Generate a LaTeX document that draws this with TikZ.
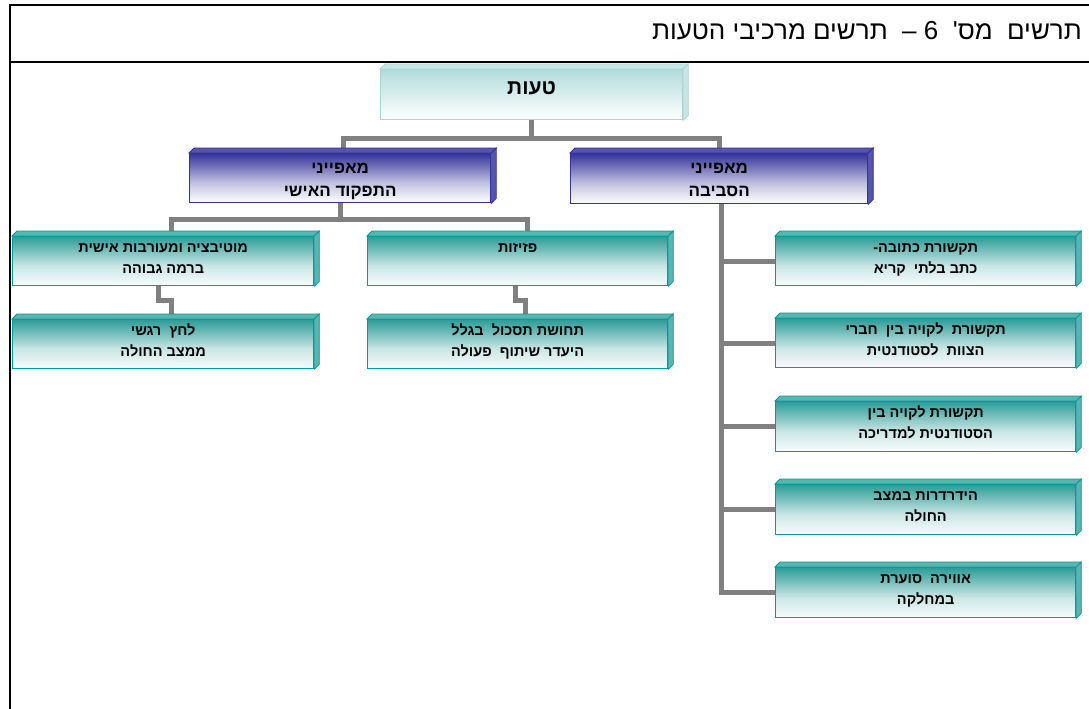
\documentclass[tikz,border=0pt]{standalone}
\usepackage{fontspec}
\setmainfont{Liberation Sans}
\newfontfamily\heb[Script=Hebrew]{Liberation Sans}
\TeXXeTstate=1
\usetikzlibrary{calc,backgrounds}
\definecolor{tealB}{HTML}{009C99}
\definecolor{tealT}{HTML}{2E9C97}
\definecolor{tealS}{HTML}{5DB3AE}
\definecolor{blueB}{HTML}{333399}
\definecolor{blueT}{HTML}{35359A}
\definecolor{blueS}{HTML}{5555AA}
\definecolor{cyanB}{HTML}{A8D6D6}
\definecolor{cyanT}{HTML}{B2DBDC}
\definecolor{cyanS}{HTML}{C9E4E4}
\definecolor{connc}{HTML}{808080}
\pgfdeclareverticalshading{tealsh}{100bp}{color(0bp)=(white!97!tealT); color(25bp)=(white!97!tealT); color(45bp)=(white!75!tealT); color(75bp)=(tealT); color(100bp)=(tealT)}
\pgfdeclareverticalshading{bluesh}{100bp}{color(0bp)=(white); color(25bp)=(white); color(45bp)=(white!70!blueT); color(75bp)=(blueT); color(100bp)=(blueT)}
\pgfdeclareverticalshading{cyansh}{100bp}{color(0bp)=(white); color(25bp)=(white); color(75bp)=(cyanT); color(100bp)=(cyanT)}
\newcommand\rl[1]{\beginR #1\endR}
\newcommand\boxtext[4]{\parbox[c][#1][t]{#2}{\centering\rule{0pt}{#3}#4}}
\newcommand\threed[3]{%
  \filldraw[fill=#2,draw=#3,line width=0.8pt] (#1.north west) -- ++(5pt,5pt) -- ($(#1.north east)+(5pt,5pt)$) -- (#1.north east) -- cycle;
  \filldraw[fill=#2,draw=#3,line width=0.8pt] (#1.north east) -- ++(5pt,5pt) -- ($(#1.south east)+(5pt,5pt)$) -- (#1.south east) -- cycle;}
\tikzset{
  tbox/.style={anchor=north west,inner sep=0pt,draw=tealB,line width=1.3pt,shade,shading=tealsh,
    font=\heb\bfseries\fontsize{14.5}{21}\selectfont},
  bbox/.style={anchor=north west,inner sep=0pt,draw=blueB,line width=1.3pt,shade,shading=bluesh,
    font=\heb\bfseries\fontsize{17}{23}\selectfont},
  cbox/.style={anchor=north west,inner sep=0pt,draw=cyanB,line width=1.3pt,shade,shading=cyansh,
    font=\heb\bfseries\fontsize{21}{24}\selectfont},
  link/.style={draw=connc,line width=5pt},
  frame/.style={line width=2pt}
}
\begin{document}
\begin{tikzpicture}[x=1pt,y=-1pt]
\useasboundingbox (0,0) rectangle (1089,709);
% frame
\draw[frame] (10,709) -- (10,5) -- (1089,5);
\draw[frame] (10,62) -- (1089,62);
\node[anchor=east,inner sep=0pt,font=\heb\fontsize{26}{30}\selectfont] (title) at (1082,31)
  {\rl{תרשים~ מס'~ 6 –~ תרשים מרכיבי הטעות}};
% nodes
\node[cbox] (top) at (380,69) {\boxtext{50pt}{302pt}{25pt}{\rl{טעות}}};
\node[bbox] (bL) at (189,153) {\boxtext{49pt}{301pt}{20pt}{\rl{מאפייני}\\\rl{התפקוד האישי}}};
\node[bbox] (bR) at (570,153) {\boxtext{50pt}{297pt}{20pt}{\rl{מאפייני}\\\rl{הסביבה}}};
\node[tbox] (L1) at (12,236) {\boxtext{49pt}{301pt}{16pt}{\rl{מוטיבציה ומעורבות אישית}\\\rl{ברמה גבוהה}}};
\node[tbox] (L2) at (12,319) {\boxtext{49pt}{301pt}{16pt}{\rl{לחץ~ רגשי}\\\rl{ממצב החולה}}};
\node[tbox] (M1) at (367,236) {\boxtext{49pt}{300pt}{16pt}{\rl{פזיזות}}};
\node[tbox] (M2) at (367,319) {\boxtext{49pt}{300pt}{16pt}{\rl{תחושת תסכול~ בגלל}\\\rl{היעדר שיתוף~ פעולה}}};
\node[tbox] (R1) at (775,236) {\boxtext{49pt}{300pt}{16pt}{\rl{תקשורת כתובה-}\\\rl{כתב בלתי~ קריא}}};
\node[tbox] (R2) at (775,318) {\boxtext{49pt}{300pt}{16pt}{\rl{תקשורת~ לקויה בין~ חברי}\\\rl{הצוות~ לסטודנטית}}};
\node[tbox] (R3) at (775,401) {\boxtext{50pt}{300pt}{16pt}{\rl{תקשורת לקויה בין}\\\rl{הסטודנטית למדריכה}}};
\node[tbox] (R4) at (775,484) {\boxtext{50pt}{300pt}{16pt}{\rl{הידרדרות במצב}\\\rl{החולה}}};
\node[tbox] (R5) at (775,567) {\boxtext{50pt}{300pt}{16pt}{\rl{אווירה~ סוערת}\\\rl{במחלקה}}};
% 3d faces
\threed{top}{cyanS}{cyanB}
\threed{bL}{blueS}{blueB}
\threed{bR}{blueS}{blueB}
\foreach \n in {L1,L2,M1,M2,R1,R2,R3,R4,R5}{\threed{\n}{tealS}{tealB}}
% connectors
\begin{pgfonlayer}{background}
\coordinate (j0) at ($(top.south)+(0pt,-18pt)$);
\coordinate (j1) at ($(bL.south)+(0pt,-16pt)$);
\draw[link] (top.south) -- (j0);
\draw[link] ($(bL.north)+(3pt,0)$) |- (j0) -| (bR.north);
\draw[link] (bL.south) -- (j1);
\draw[link] ($(L1.north)+(8pt,0)$) |- (j1) -| ($(M1.north)+(10pt,0)$);
\draw[link] ($(L1.south)+(-5pt,0)$) -- ++(0,-14pt) -| ($(L2.north)+(8pt,0)$);
\draw[link] ($(M1.south)+(-2pt,0)$) -- ++(0,-14pt) -| ($(M2.north)+(8pt,0)$);
\draw[link] ($(bR.south)+(2pt,0)$) |- (R5.west);
\foreach \n in {R1,R2,R3,R4}{\draw[link] (\n.west) -- ($(\n.west -| bR.south)+(2pt,0)$);}
\end{pgfonlayer}
\end{tikzpicture}
\end{document}
